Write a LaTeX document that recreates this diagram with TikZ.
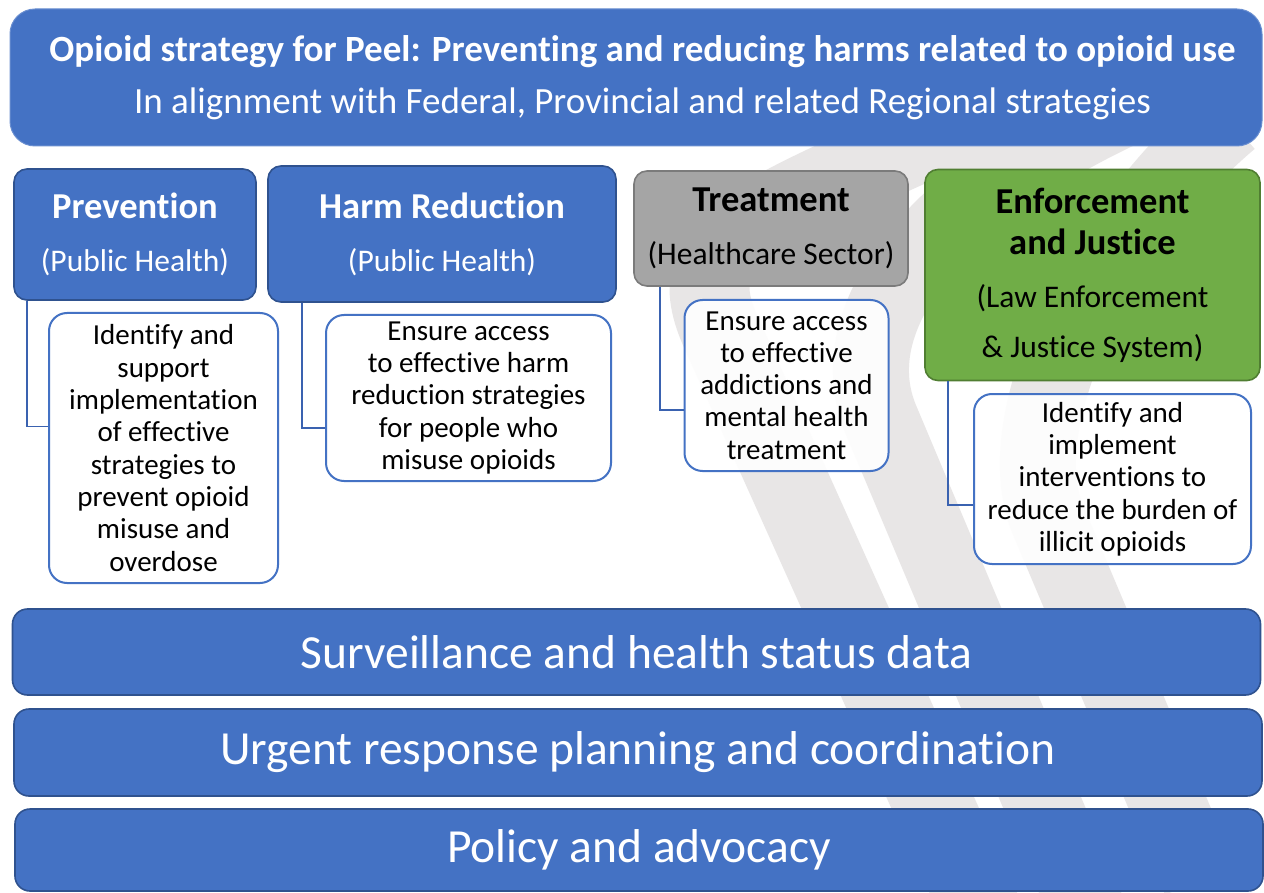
\documentclass[tikz,border=0pt]{standalone}
\usepackage{fontspec}
\setmainfont{Carlito}[Ligatures={CommonOff,ContextualOff,RareOff}, Contextuals=AlternateOff]
\definecolor{peelblue}{HTML}{4472C4}
\definecolor{peeldark}{HTML}{2F528F}
\definecolor{peelgray}{HTML}{A5A5A5}
\definecolor{peelgraydark}{HTML}{7B7B7B}
\definecolor{peelgreen}{HTML}{70AD47}
\definecolor{peelgreendark}{HTML}{507E32}
\definecolor{peellink}{HTML}{3A62B0}
\definecolor{peelmark}{HTML}{E8E6E6}
\newcommand\pillartitle[1]{{\fontsize{36.5}{53}\selectfont\bfseries #1}}
\tikzset{
  pillar/.style={rounded corners=13pt, line width=1.6pt, align=center, inner sep=0pt,
    font=\fontsize{31.5}{53}\selectfont},
  bluepillar/.style={pillar, fill=peelblue, draw=peeldark, text=white},
  graypillar/.style={pillar, fill=peelgray, draw=peelgraydark, text=black},
  greenpillar/.style={pillar, fill=peelgreen, draw=peelgreendark, text=black},
  goal/.style={rounded corners=18pt, draw=peelblue, line width=2pt, fill=white,
    fill opacity=0.9, text opacity=1, align=center, inner sep=0pt,
    font=\fontsize{29}{32.3}\selectfont},
  bar/.style={rounded corners=15pt, fill=peelblue, draw=peeldark, line width=1.6pt,
    text=white, inner sep=0pt, font=\fontsize{47.5}{50}\selectfont},
  link/.style={draw=peellink, line width=1.8pt}
}
\begin{document}
\begin{tikzpicture}[x=1pt,y=-1pt]
  \useasboundingbox[fill=white] (0,0) rectangle (1264,893);
  \begin{scope}
    \clip (0,0) rectangle (1264,893);
    \draw[peelmark, line width=80pt] (1010,100) .. controls (770,215) and (676,230) .. (720,330) -- (990,930);
    \draw[peelmark, line width=76pt] (1120,110) .. controls (930,200) and (839,320) .. (881,420) -- (1100,940);
    \draw[peelmark, line width=76pt] (1230,120) .. controls (1100,230) and (1006,420) .. (1048,520) -- (1200,880);
  \end{scope}

  \node[rounded corners=25pt, fill=peelblue, draw=peelblue!80!white, line width=1pt,
    minimum width=1252pt, minimum height=137pt, text=white, align=center,
    font=\fontsize{37}{52}\selectfont] (head) at (636,77.5)
    {\hspace*{13pt}\textbf{Opioid strategy for Peel: Preventing and reducing harms related to opioid use}\\
     \hspace*{13pt}In alignment with Federal, Provincial and related Regional strategies};

  \node[bluepillar, minimum width=242pt, minimum height=131pt] (prev) at (135,234.5)
    {\pillartitle{Prevention}\\(Public Health)};
  \node[bluepillar, minimum width=348pt, minimum height=136pt] (harm) at (442,234)
    {\pillartitle{Harm Reduction}\\(Public Health)};
  \node[graypillar, minimum width=274pt, minimum height=115pt] (treat) at (771,228.5)
    {\pillartitle{Treatment}\\(Healthcare Sector)};
  \node[greenpillar, minimum width=335pt, minimum height=211pt] (enf) at (1092.5,275)
    {\pillartitle{Enforcement}\\[-12pt]\pillartitle{and Justice}\\(Law Enforcement\\[-3pt]\& Justice System)};

  \node[goal, minimum width=229pt, minimum height=270pt] (d1) at (163.5,448)
    {Identify and\\support\\implementation\\of effective\\strategies to\\prevent opioid\\misuse and\\overdose};
  \node[goal, minimum width=285pt, minimum height=166pt] (d2) at (468.5,398)
    {Ensure access\\to effective harm\\reduction strategies\\for people who\\misuse opioids};
  \node[goal, minimum width=204pt, minimum height=171pt] (d3) at (786.5,385.5)
    {Ensure access\\to effective\\addictions and\\mental health\\treatment};
  \node[goal, minimum width=277pt, minimum height=170pt] (d4) at (1112.5,479)
    {Identify and\\implement\\interventions to\\reduce the burden of\\illicit opioids};

  \draw[link] ([xshift=14pt]prev.south west) |- ([yshift=21.5pt]d1.west);
  \draw[link] ([xshift=35pt]harm.south west) |- ([yshift=-30pt]d2.west);
  \draw[link] ([xshift=27pt]treat.south west) |- ([yshift=-24.5pt]d3.west);
  \draw[link] ([xshift=24pt]enf.south west) |- ([yshift=-26pt]d4.west);

  \foreach \n/\x/\y/\h/\t in {surv/636.5/652/86/Surveillance and health status data,
      urg/638/752.5/87/Urgent response planning and coordination,
      pol/639/850/82/Policy and advocacy}
    \node[bar, minimum width=1248pt, minimum height=\h pt] (\n) at (\x,\y) {\t};
\end{tikzpicture}
\end{document}
